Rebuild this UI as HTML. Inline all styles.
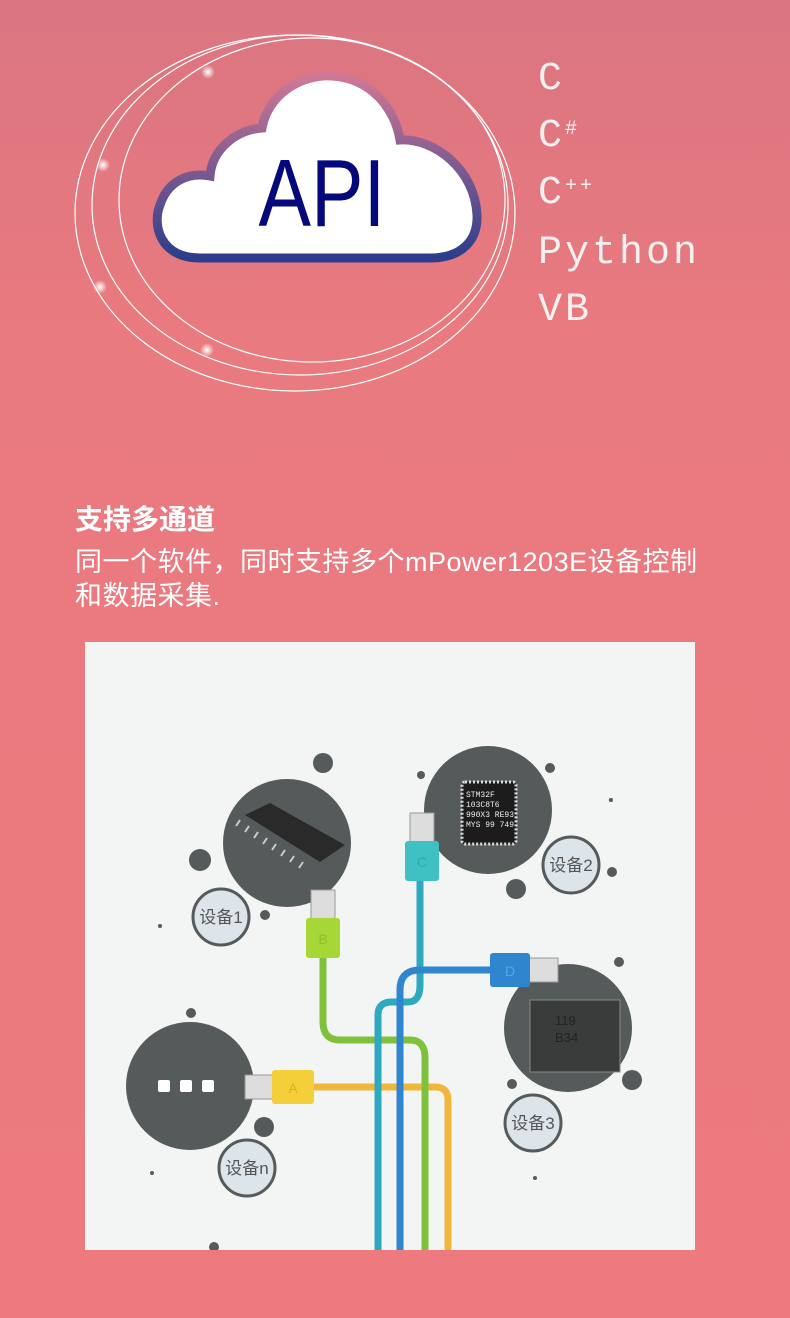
<!DOCTYPE html>
<html><head><meta charset="utf-8"><style>
html,body{margin:0;padding:0}
body{width:790px;height:1318px;position:relative;overflow:hidden;background:linear-gradient(180deg,#da7581 0%,#e97a7f 25%,#ec7a7e 100%);font-family:"Liberation Sans","Noto Sans CJK SC",sans-serif}
.lang{position:absolute;left:538px;color:#f4f0f0;font-family:"Liberation Mono",monospace;font-size:40px;letter-spacing:3px;line-height:1}
.t{position:absolute;left:75px;color:#fff}
</style></head><body>
<svg width="790" height="640" style="position:absolute;left:0;top:0">
<defs>
<linearGradient id="cg" x1="0" y1="0" x2="0" y2="1"><stop offset="0" stop-color="#d07896"/><stop offset="1" stop-color="#2c3e8a"/></linearGradient>
<radialGradient id="sp"><stop offset="0" stop-color="#fff"/><stop offset="1" stop-color="#fff" stop-opacity="0"/></radialGradient>
</defs>
<g fill="none" stroke="#fff" stroke-width="1.2">
<ellipse cx="295" cy="213" rx="220" ry="178"/>
<ellipse cx="300" cy="205" rx="208" ry="170"/>
<ellipse cx="312" cy="200" rx="193" ry="162"/>
</g>
<g fill="url(#sp)"><circle cx="208" cy="72" r="7"/><circle cx="103" cy="165" r="7"/><circle cx="100" cy="287" r="7"/><circle cx="207" cy="350" r="7"/></g>
<path d="M200,258 C160,258 152,225 160,205 C168,180 190,172 210,176 C212,150 235,130 262,128 C268,95 300,74 332,76 C370,78 395,108 400,140 C435,138 475,170 477,215 C478,240 462,258 430,258 Z" fill="#fff" stroke="url(#cg)" stroke-width="9"/>
<text x="322" y="226" text-anchor="middle" font-family="Liberation Sans Narrow,Liberation Sans,sans-serif" font-size="96" fill="#06097a" transform="translate(322 0) scale(0.82 1) translate(-322 0)">API</text>
</svg>
<div class="lang" style="top:60px">C</div>
<div class="lang" style="top:117px">C<sup style="font-size:20px;vertical-align:12px">#</sup></div>
<div class="lang" style="top:174px">C<sup style="font-size:20px;vertical-align:12px">++</sup></div>
<div class="lang" style="top:234px">Python</div>
<div class="lang" style="top:291px">VB</div>
<div class="t" style="top:498px;font-size:28px;font-weight:bold">支持多通道</div>
<div class="t" style="top:545px;font-size:27px;line-height:34px;letter-spacing:0.5px;white-space:nowrap">同一个软件，同时支持多个mPower1203E设备控制<br>和数据采集.</div>
<svg width="610" height="608" viewBox="85 642 610 608" style="position:absolute;left:85px;top:642px">
<rect x="85" y="642" width="610" height="608" fill="#f3f4f4"/>
<g fill="#555b5a">
<circle cx="287" cy="843" r="64"/><circle cx="488" cy="810" r="64"/><circle cx="568" cy="1028" r="64"/><circle cx="190" cy="1086" r="64"/>
<circle cx="323" cy="763" r="10"/><circle cx="200" cy="860" r="11"/><circle cx="265" cy="915" r="5"/><circle cx="550" cy="768" r="5"/><circle cx="516" cy="889" r="10"/><circle cx="632" cy="1080" r="10"/><circle cx="612" cy="872" r="5"/><circle cx="619" cy="962" r="5"/><circle cx="191" cy="1013" r="5"/><circle cx="264" cy="1127" r="10"/><circle cx="214" cy="1247" r="5"/><circle cx="512" cy="1084" r="5"/><circle cx="421" cy="775" r="4"/>
<circle cx="160" cy="926" r="2"/><circle cx="152" cy="1173" r="2"/><circle cx="535" cy="1178" r="2"/><circle cx="611" cy="800" r="2"/>
</g>
<g fill="#dde4ea" stroke="#555b5a" stroke-width="3">
<circle cx="221" cy="917" r="28"/><circle cx="571" cy="865" r="28"/><circle cx="533" cy="1123" r="28"/><circle cx="247" cy="1168" r="28"/>
</g>
<g fill="#555" font-size="17" text-anchor="middle">
<text x="221" y="923">设备1</text><text x="571" y="871">设备2</text><text x="533" y="1129">设备3</text><text x="247" y="1174">设备n</text>
</g>
<g fill="#fff"><rect x="158" y="1080" width="12" height="12" rx="2"/><rect x="180" y="1080" width="12" height="12" rx="2"/><rect x="202" y="1080" width="12" height="12" rx="2"/></g>
<polygon points="245,815 270,803 345,845 320,862" fill="#2a2a2a"/>
<g stroke="#ccc" stroke-width="2"><path d="M240,820 l-4,6 M249,826 l-4,6 M258,832 l-4,6 M267,838 l-4,6 M276,844 l-4,6 M285,850 l-4,6 M294,856 l-4,6 M303,862 l-4,6"/></g>
<rect x="462" y="782" width="54" height="62" rx="3" fill="#1c1c1c" stroke="#ddd" stroke-dasharray="2 2" stroke-width="3"/>
<text x="466" y="797" font-family="Liberation Mono,monospace" font-size="8" fill="#eee">STM32F</text>
<text x="466" y="807" font-family="Liberation Mono,monospace" font-size="8" fill="#eee">103C8T6</text>
<text x="466" y="817" font-family="Liberation Mono,monospace" font-size="8" fill="#eee">990X3 RE93</text>
<text x="466" y="827" font-family="Liberation Mono,monospace" font-size="8" fill="#eee">MYS 99 749</text>
<rect x="530" y="1000" width="90" height="72" fill="#3a3c3b" stroke="#888"/>
<text x="555" y="1025" font-size="13" fill="#222">119</text><text x="555" y="1042" font-size="13" fill="#222">B34</text>
<g fill="none" stroke-width="7" stroke-linecap="round">
<path d="M448,1250 L448,1100 Q448,1087 435,1087 L315,1087" stroke="#f0b83a"/>
<path d="M425,1250 L425,1058 Q425,1040 410,1040 L340,1040 Q323,1040 323,1022 L323,956" stroke="#7fc13b"/>
<path d="M378,1250 L378,1015 Q378,1002 392,1002 L408,1002 Q420,1002 420,985 L420,880" stroke="#2fa9bf"/>
<path d="M400,1250 L400,990 Q400,970 420,970 L492,970" stroke="#2f86cf"/>
</g>
<rect x="311" y="890" width="24" height="30" fill="#ddd" stroke="#999"/><rect x="306" y="918" width="34" height="40" rx="3" fill="#a7d637"/><text x="323" y="944" font-size="14" fill="#8fbf2a" text-anchor="middle">B</text>
<rect x="410" y="813" width="24" height="30" fill="#ddd" stroke="#999"/><rect x="405" y="841" width="34" height="40" rx="3" fill="#3fc0c2"/><text x="422" y="867" font-size="14" fill="#30a8aa" text-anchor="middle">C</text>
<rect x="528" y="958" width="30" height="24" fill="#ddd" stroke="#999"/><rect x="490" y="953" width="40" height="34" rx="3" fill="#2f86cf"/><text x="510" y="976" font-size="14" fill="#5aa6e0" text-anchor="middle">D</text>
<rect x="245" y="1075" width="30" height="24" fill="#ddd" stroke="#999"/><rect x="272" y="1070" width="42" height="34" rx="3" fill="#f5cf3a"/><text x="293" y="1093" font-size="14" fill="#e0b020" text-anchor="middle">A</text>
</svg>
</body></html>
